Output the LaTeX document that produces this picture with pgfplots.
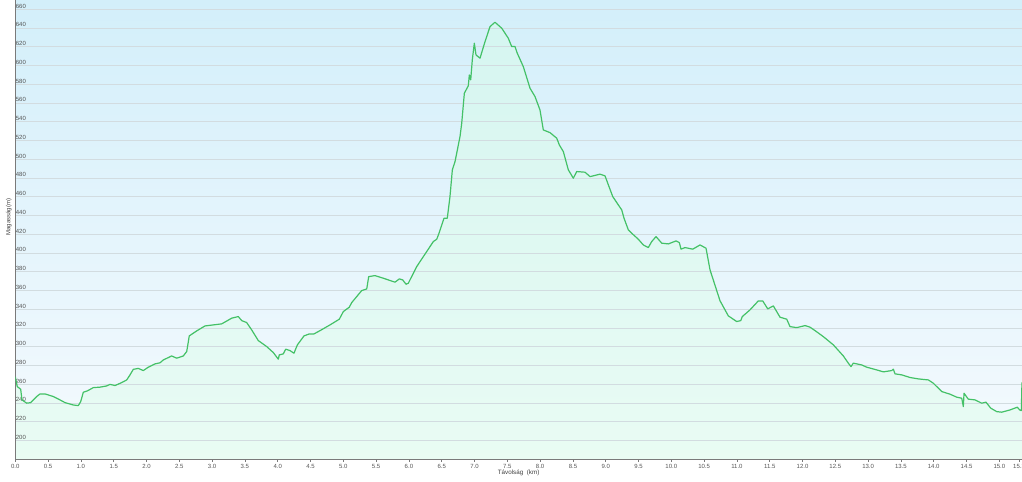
\documentclass[border=0pt]{standalone}
\usepackage{pgfplots}
\pgfplotsset{compat=1.18}
\usepackage{pgfplotstable}
\usepackage{fontspec}
\setmainfont{Liberation Sans}
\definecolor{linegreen}{HTML}{44C167}
\definecolor{bgtop}{HTML}{D3EFFA}
\definecolor{bgbot}{HTML}{F5FAFE}
\definecolor{fillc}{HTML}{D8FFE4}
\definecolor{gridc}{HTML}{D2DCE0}
\definecolor{labc}{HTML}{555555}
\definecolor{axc}{HTML}{7A7A7A}
\pgfplotsset{
  layers/mylayers/.define layer set={
    axis background,fillarea,axis grid,axis ticks,axis lines,axis tick labels,pre main,main,axis descriptions,axis foreground
  }{/pgfplots/layers/standard},
}
\pgfplotstableread{
km elev
0.000 268.0
0.030 257.6
0.082 254.8
0.102 243.4
0.174 239.9
0.235 240.5
0.326 247.0
0.377 249.8
0.453 249.8
0.579 247.0
0.681 243.4
0.758 240.5
0.884 238.0
0.960 237.3
0.997 241.6
1.037 251.6
1.098 253.0
1.189 256.5
1.291 257.0
1.393 258.3
1.444 260.0
1.520 258.7
1.622 261.9
1.698 264.7
1.748 270.0
1.799 276.0
1.875 277.0
1.951 274.7
2.027 278.3
2.130 281.8
2.206 283.0
2.256 286.0
2.384 290.3
2.460 287.9
2.561 290.3
2.613 295.0
2.652 311.7
2.765 317.0
2.892 322.3
3.018 323.4
3.146 324.5
3.299 330.6
3.399 332.3
3.451 328.0
3.527 325.9
3.604 318.0
3.704 306.7
3.832 300.3
3.933 293.9
4.009 286.8
4.024 291.4
4.085 292.5
4.122 297.5
4.188 296.0
4.248 293.2
4.299 302.0
4.401 311.7
4.482 313.8
4.553 313.8
4.645 317.3
4.797 323.4
4.939 329.5
5.000 337.6
5.091 342.3
5.128 347.2
5.204 353.6
5.280 360.0
5.357 361.8
5.387 374.9
5.483 376.0
5.610 373.2
5.788 369.0
5.854 372.5
5.905 371.4
5.956 366.8
5.991 367.9
6.119 385.6
6.372 412.3
6.424 414.8
6.459 421.2
6.535 437.2
6.585 437.2
6.626 460.3
6.662 488.8
6.703 497.7
6.779 524.3
6.805 538.6
6.845 570.6
6.905 578.4
6.921 590.0
6.942 584.8
6.966 606.0
6.997 623.9
7.023 611.4
7.084 607.9
7.160 625.6
7.236 641.6
7.312 646.3
7.415 639.9
7.515 629.2
7.567 620.3
7.617 620.3
7.652 613.2
7.744 598.9
7.846 575.9
7.922 567.0
7.998 552.7
8.049 531.4
8.151 528.5
8.253 522.6
8.293 515.4
8.354 508.3
8.430 488.8
8.506 479.9
8.558 487.0
8.684 486.3
8.761 481.6
8.913 484.2
8.989 482.4
9.107 460.3
9.192 451.4
9.244 446.1
9.279 437.2
9.345 424.7
9.396 421.2
9.497 414.8
9.573 408.7
9.649 405.9
9.701 412.3
9.767 417.6
9.854 410.6
9.954 409.8
10.072 413.0
10.122 411.2
10.148 404.2
10.209 405.9
10.326 404.2
10.438 408.7
10.529 405.2
10.590 382.1
10.742 349.2
10.869 333.0
10.997 327.0
11.058 328.0
11.082 332.3
11.199 339.4
11.326 349.0
11.393 349.0
11.470 340.5
11.555 343.7
11.657 331.6
11.759 329.5
11.809 321.6
11.912 320.5
12.038 322.7
12.114 321.0
12.191 317.3
12.317 310.9
12.470 302.1
12.622 290.3
12.698 282.6
12.739 278.9
12.774 282.6
12.902 280.7
12.979 278.3
13.131 275.4
13.232 273.3
13.360 274.7
13.384 276.2
13.410 271.2
13.512 270.1
13.639 267.3
13.765 265.8
13.918 264.7
13.994 261.2
14.122 252.3
14.248 249.5
14.351 246.3
14.427 245.2
14.451 236.3
14.462 250.5
14.527 244.2
14.630 243.4
14.732 239.9
14.796 241.0
14.869 234.6
14.960 230.9
15.037 230.3
15.163 232.7
15.274 235.6
15.310 232.7
15.335 232.0
15.345 262.0
}\elevdata
\begin{document}
\begin{tikzpicture}
\begin{axis}[
  set layers=mylayers,
  at={(11.475pt,17.0pt)}, anchor=south west,
  width=755pt, height=344.5pt, scale only axis,
  xmin=0, xmax=15.345, ymin=180, ymax=670,
  axis x line*=bottom, axis y line*=left,
  axis line style={-, draw=axc, line width=0.75pt},
  axis background/.style={shade, top color=bgtop, bottom color=bgbot},
  xtick={0,0.5,...,15.0,15.3},
  ytick={200,220,...,660},
  ymajorgrids,
  grid style={draw=gridc, line width=0.75pt},
  tick align=outside,
  major tick length=2pt,
  xtick style={draw=axc, line width=0.5pt},
  ytick style={draw=none},
  tick label style={font=\fontsize{4.5}{5}\selectfont, text=labc},
  /pgf/number format/assume math mode=true,
  xticklabel={\pgfmathprintnumber[fixed,fixed zerofill,precision=1]{\tick}},
  yticklabel={\pgfmathprintnumber[fixed,precision=0,set thousands separator={}]{\tick}},
  yticklabel style={anchor=south west, xshift=2.2pt, yshift=0.6pt, inner sep=0pt},
  xticklabel style={anchor=north, yshift=-0.3pt, inner sep=1pt},
  xlabel={Távolság\ \ (km)},
  xlabel style={font=\fontsize{4.7}{5}\selectfont, text=black!75, at={(axis description cs:0.5,-0.023)}, anchor=north, inner sep=0pt},
  ylabel={Magasság(m)},
  ylabel style={font=\fontsize{4.5}{5}\selectfont, text=black!75, at={(axis description cs:-0.0035,0.527)}, anchor=south, inner sep=0pt},
]
\begin{pgfonlayer}{fillarea}
\addplot[draw=none, fill=fillc, fill opacity=0.4] table[x=km,y=elev] {\elevdata} \closedcycle;
\end{pgfonlayer}
\addplot[draw=linegreen, line width=0.9pt, line join=round, mark=none] table[x=km,y=elev] {\elevdata};
\end{axis}
\pgfresetboundingbox
\useasboundingbox (0pt,0pt) rectangle (766.5pt,361.5pt);
\end{tikzpicture}
\end{document}
